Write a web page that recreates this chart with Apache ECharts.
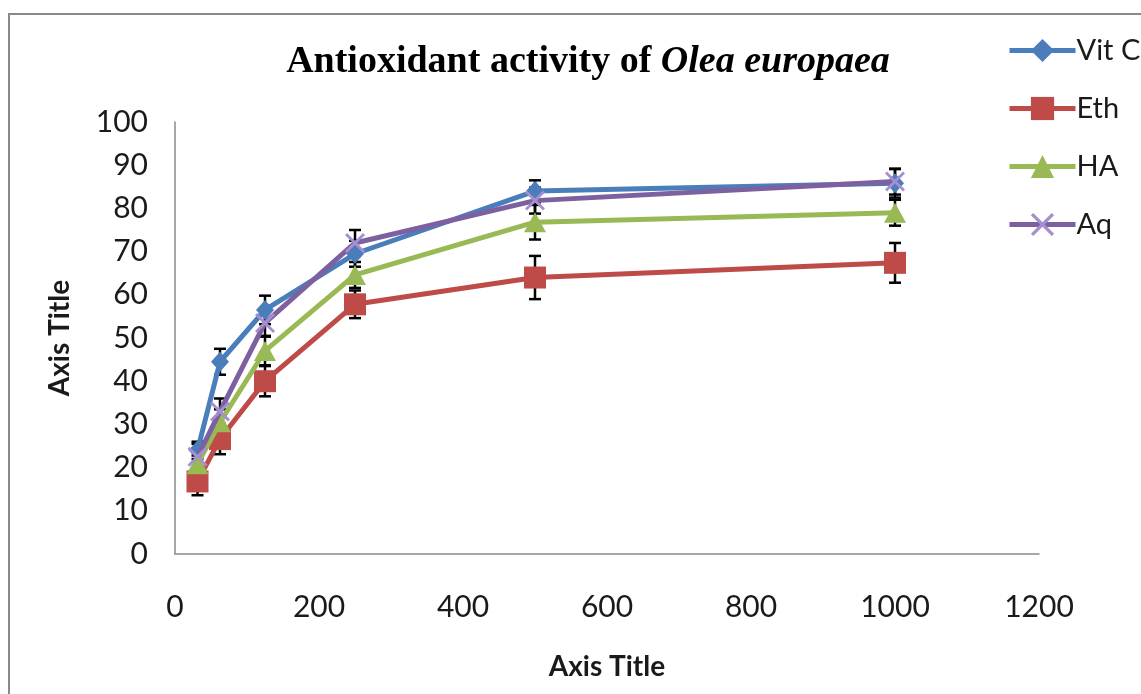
<!DOCTYPE html>
<html>
<head>
<meta charset="utf-8">
<script src="https://cdn.jsdelivr.net/npm/echarts@6/dist/echarts.min.js"></script>
<style>
html,body{margin:0;padding:0;background:#fff;}
#chart{width:1141px;height:694px;}
</style>
</head>
<body>
<div id="chart"></div>
<script>
// ---- data ----
var xValues = [31.25, 62.5, 125, 250, 500, 1000];
var seriesNames = ['Vit C', 'Eth', 'HA', 'Aq'];
var vitC = [24, 44.5, 56.5, 69.5, 84, 85.8];
var eth  = [16.8, 26.6, 40, 57.8, 64, 67.4];
var ha   = [20.8, 30.5, 47, 64.6, 76.8, 79];
var aq   = [22.5, 33, 53.5, 72, 81.8, 86.2];
var errVitC = [2, 3, 3.3, 3, 2.5, 3.3];
var errEth  = [3.2, 3.5, 3.5, 3.2, 5, 4.6];
var errHa   = [2, 3, 3.3, 3, 4, 3];
var errAq   = [3, 3, 3, 3, 3, 3];
var xTicks = [0, 200, 400, 600, 800, 1000, 1200];
var yTicks = [0, 10, 20, 30, 40, 50, 60, 70, 80, 90, 100];

var colors = ['#4A7EBB', '#BE4B48', '#98B954', '#7D60A0'];
var values = [vitC, eth, ha, aq];
var errs = [errVitC, errEth, errHa, errAq];
var xShape = 'path://M0,1 L1,0 L5,4 L9,0 L10,1 L6,5 L10,9 L9,10 L5,6 L1,10 L0,9 L4,5 Z';
var symbols = ['diamond', 'rect', 'triangle', xShape];
var symbolSizes = [[18, 20], 22, [22, 20], 20];

function pairs(v) { return xValues.map(function (x, i) { return [x, v[i]]; }); }
function errPairs(v, e) { return xValues.map(function (x, i) { return [x, v[i], e[i]]; }); }

var series = [];
// error bars
values.forEach(function (v, k) {
  series.push({
    type: 'custom',
    name: seriesNames[k] + ' err',
    z: 1,
    silent: true,
    data: errPairs(v, errs[k]),
    renderItem: function (params, api) {
      var x = api.value(0), y = api.value(1), e = api.value(2);
      var top = api.coord([x, y + e]);
      var bot = api.coord([x, y - e]);
      var hw = 6;
      var st = { stroke: '#000', lineWidth: 2.5 };
      return {
        type: 'group',
        children: [
          { type: 'line', shape: { x1: top[0], y1: top[1], x2: bot[0], y2: bot[1] }, style: st },
          { type: 'line', shape: { x1: top[0] - hw, y1: top[1], x2: top[0] + hw, y2: top[1] }, style: st },
          { type: 'line', shape: { x1: bot[0] - hw, y1: bot[1], x2: bot[0] + hw, y2: bot[1] }, style: st }
        ]
      };
    }
  });
});
values.forEach(function (v, k) {
  series.push({
    type: 'line',
    name: seriesNames[k],
    z: 2 + k,
    data: pairs(v),
    symbol: symbols[k],
    symbolSize: symbolSizes[k],
    showAllSymbol: true,
    lineStyle: { color: colors[k], width: 5 },
    itemStyle: { color: k === 3 ? '#A58FD0' : colors[k], opacity: 1 },
    emphasis: { disabled: true },
    animation: false
  });
});

var chart = echarts.init(document.getElementById('chart'), null, { renderer: 'canvas' });
chart.setOption({
  animation: false,
  backgroundColor: '#fff',
  title: {
    text: '{a|Antioxidant activity of }{b|Olea europaea}',
    left: 583,
    textAlign: 'center',
    top: 38,
    textStyle: {
      rich: {
        a: { fontFamily: 'Liberation Serif', fontWeight: 'bold', fontSize: 38, color: '#000' },
        b: { fontFamily: 'Liberation Serif', fontWeight: 'bold', fontStyle: 'italic', fontSize: 38, color: '#000' }
      }
    }
  },
  legend: {
    orient: 'vertical',
    left: 1002,
    top: 31,
    itemGap: 29,
    itemWidth: 66,
    itemHeight: 29,
    data: seriesNames,
    lineStyle: { width: 5 },
    textStyle: { fontFamily: 'Lato', fontSize: 29, color: '#1a1a1a', padding: [0, 0, 0, -4] }
  },
  grid: { left: 175, right: 1141 - 1039, top: 122, bottom: 694 - 554, containLabel: false },
  xAxis: {
    type: 'value',
    min: 0, max: 1200, interval: 200,
    name: 'Axis Title',
    nameLocation: 'middle',
    nameGap: 99,
    nameTextStyle: { fontFamily: 'Lato', fontWeight: 'bold', fontSize: 28, color: '#1a1a1a' },
    axisLine: { show: true, lineStyle: { color: '#8a8a8a', width: 1.5 } },
    axisTick: { show: false },
    splitLine: { show: false },
    axisLabel: { margin: 38, fontFamily: 'Lato', fontSize: 30, color: '#1a1a1a', formatter: function (v) { return String(v); } }
  },
  yAxis: {
    type: 'value',
    min: 0, max: 100, interval: 10,
    name: 'Axis Title',
    nameLocation: 'middle',
    nameGap: 101,
    nameRotate: 90,
    nameTextStyle: { fontFamily: 'Lato', fontWeight: 'bold', fontSize: 28, color: '#1a1a1a' },
    axisLine: { show: true, lineStyle: { color: '#8a8a8a', width: 1.5 } },
    axisTick: { show: false },
    splitLine: { show: false },
    axisLabel: { margin: 27, fontFamily: 'Lato', fontSize: 30, color: '#1a1a1a', formatter: function (v) { return String(v); } }
  },
  graphic: [{
    type: 'rect',
    silent: true,
    z: -1,
    shape: { x: 9, y: 14, width: 1300, height: 800 },
    style: { fill: 'none', stroke: '#8a8a8a', lineWidth: 2 }
  }],
  series: series
});
</script>
</body>
</html>
